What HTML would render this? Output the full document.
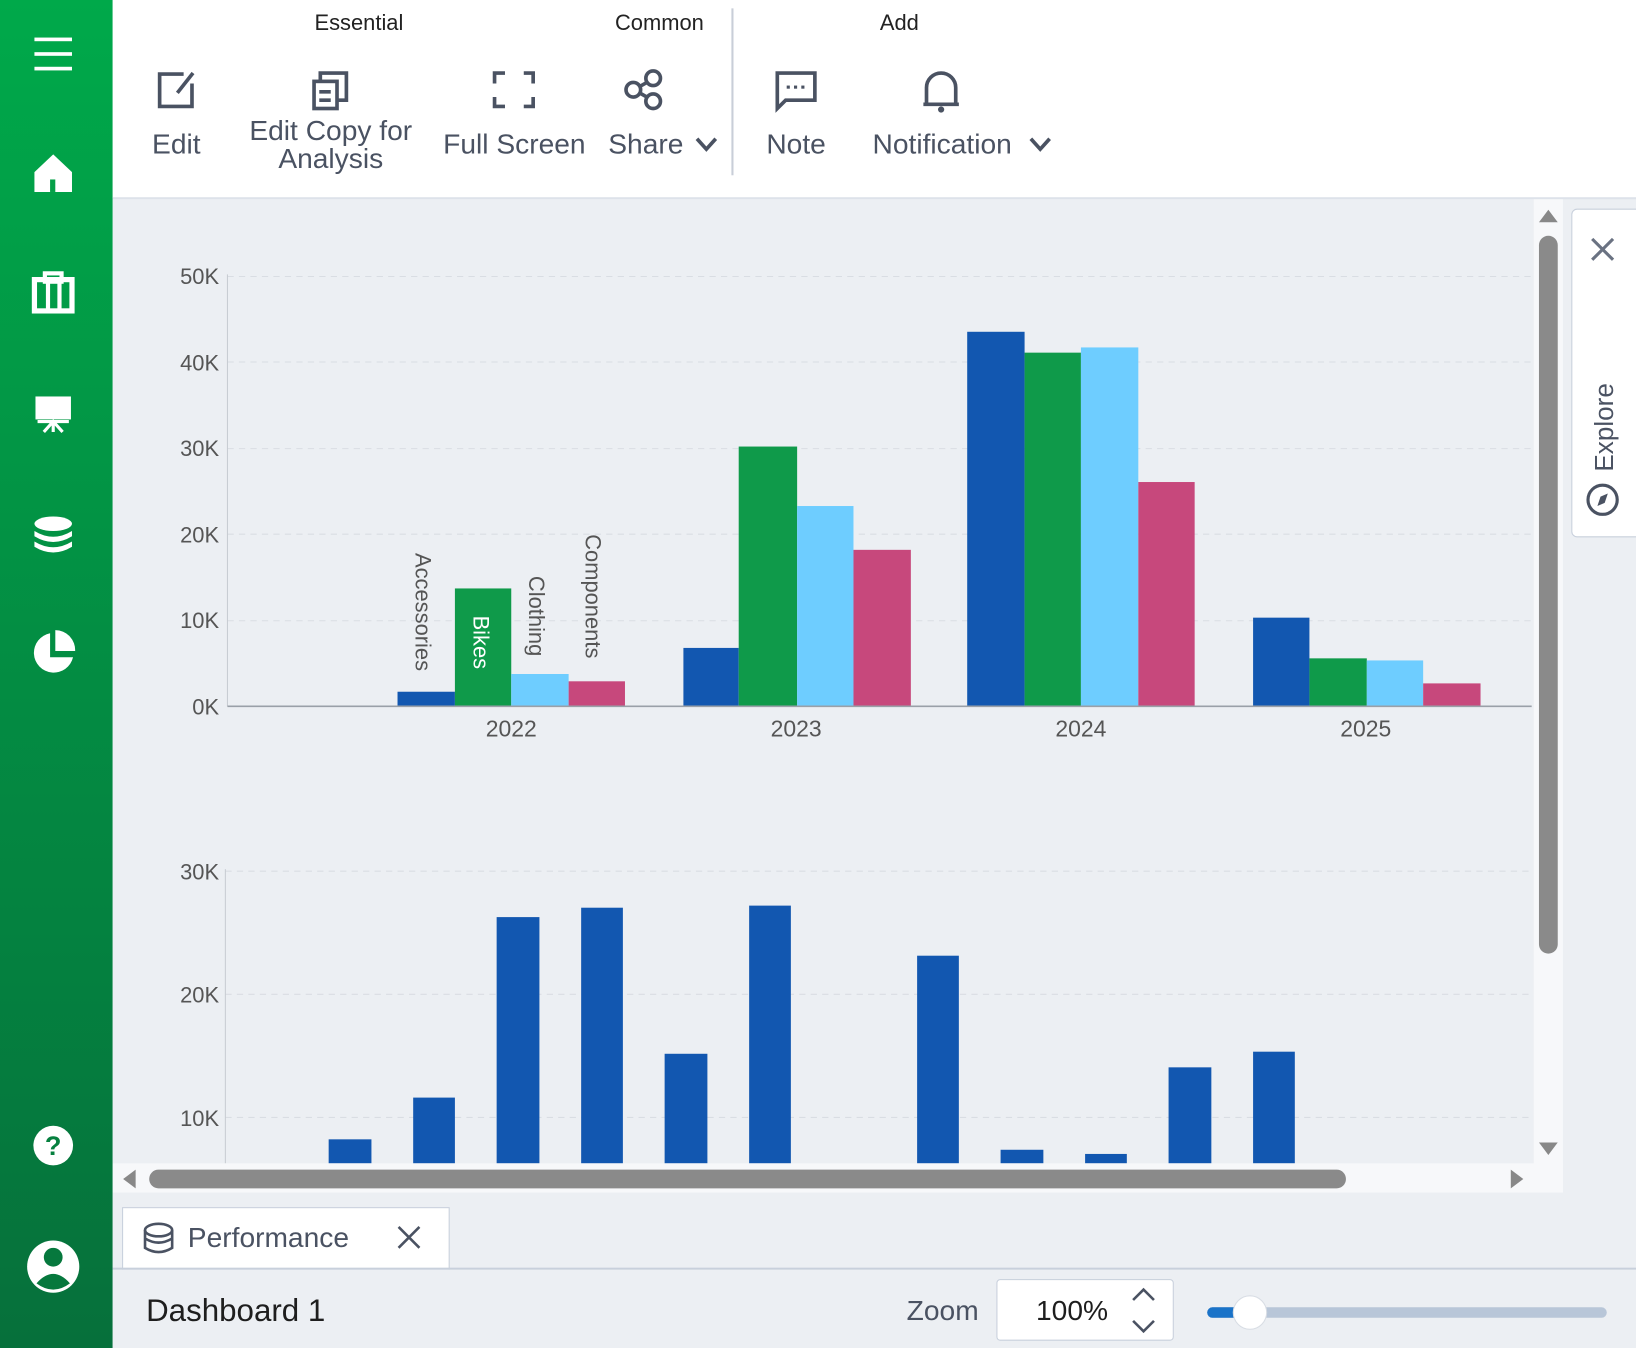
<!DOCTYPE html>
<html><head><meta charset="utf-8"><style>
html,body{margin:0;padding:0;width:1636px;height:1348px;overflow:hidden;background:#eceff3}
svg{display:block}
text{font-family:"Liberation Sans",sans-serif}
</style></head><body>
<svg width="1636" height="1348" viewBox="0 0 1568 1292" preserveAspectRatio="none" xmlns="http://www.w3.org/2000/svg">
<defs>
<linearGradient id="sb" x1="0" y1="0" x2="0" y2="1"><stop offset="0" stop-color="#00a94a"/><stop offset="1" stop-color="#06703b"/></linearGradient>
</defs>
<rect x="0" y="0" width="1568" height="1292" fill="#eceff3"/>
<!-- sidebar -->
<rect x="0" y="0" width="108" height="1292" fill="url(#sb)"/>
<g fill="#fff" stroke="#fff">
<rect x="33" y="36" width="36" height="3.5" stroke="none"/><rect x="33" y="50" width="36" height="3.5" stroke="none"/><rect x="33" y="64" width="36" height="3.5" stroke="none"/>
<path d="M33 165 L51 148 L69 165 L69 184 L33 184 Z" stroke="none"/>
<rect x="48" y="172" width="5" height="12" fill="#04a048" stroke="none"/>
<rect x="33" y="268" width="36" height="30" fill="none" stroke-width="5"/><rect x="43" y="262" width="16" height="8" fill="none" stroke-width="4"/><rect x="44" y="270" width="4" height="28" stroke="none"/><rect x="55" y="270" width="4" height="28" stroke="none"/>
<rect x="34" y="380" width="34" height="22" stroke="none"/><path d="M36 404 L66 404 M51 404 L51 414 M42 414 L51 404 L60 414" fill="none" stroke-width="3"/>
<ellipse cx="51" cy="502" rx="18" ry="7" stroke="none"/><path d="M33 509 Q51 520 69 509 L69 514 Q51 525 33 514Z M33 519 Q51 530 69 519 L69 524 Q51 535 33 524Z" stroke="none"/>
<path d="M48 607 A19 19 0 1 0 70 630 L48 630 Z" stroke="none"/><path d="M53 604 A19 19 0 0 1 72 624 L53 624 Z" stroke="none"/>
<circle cx="51" cy="1098" r="19" stroke="none"/>
<circle cx="51" cy="1214" r="25" stroke="none"/>
</g>
<text x="51" y="1107" font-size="26" font-weight="bold" fill="#06803f" text-anchor="middle">?</text>
<circle cx="51" cy="1205" r="9" fill="#06783d"/><path d="M35 1230 Q51 1212 67 1230 Q51 1242 35 1230Z" fill="#06783d"/>
<!-- toolbar -->
<rect x="108" y="0" width="1460" height="190" fill="#fff"/>
<rect x="108" y="189" width="1460" height="2" fill="#dde2ea"/>
<rect x="701" y="8" width="2" height="160" fill="#c9ced8"/>
<g font-size="21" fill="#222" text-anchor="middle"><text x="344" y="29">Essential</text><text x="632" y="29">Common</text><text x="862" y="29">Add</text></g>
<g font-size="27" fill="#4a5262" text-anchor="middle">
<text x="169" y="147">Edit</text><text x="317" y="134">Edit Copy for</text><text x="317" y="161">Analysis</text>
<text x="493" y="147">Full Screen</text><text x="619" y="147">Share</text><text x="763" y="147">Note</text><text x="903" y="147">Notification</text></g>
<g fill="none" stroke="#4a5262" stroke-width="3.5">
<path d="M668 133 L677 143 L686 133"/><path d="M988 133 L997 143 L1006 133"/>
<path d="M176 71 L153 71 L153 102 L184 102 L184 80"/><path d="M170 89 L185 70"/>
<rect x="301" y="78" width="22" height="26"/><path d="M307 78 L307 70 L332 70 L332 96 L323 96"/><path d="M306 88 L317 88 M306 96 L317 96"/>
<path d="M474 80 L474 70 L484 70 M502 70 L511 70 L511 80 M511 93 L511 102 L502 102 M484 102 L474 102 L474 93"/>
<circle cx="607" cy="86" r="7"/><circle cx="626" cy="75" r="7"/><circle cx="626" cy="97" r="7"/><path d="M613 83 L620 79 M613 89 L620 93"/>
<path d="M745 70 L781 70 L781 96 L753 96 L745 104 Z"/>
<path d="M888 100 L888 84 A14 14 0 0 1 916 84 L916 100 Z M885 100 L919 100"/>
</g>
<g fill="#4a5262"><rect x="754" y="82" width="3" height="3"/><rect x="761" y="82" width="3" height="3"/><rect x="768" y="82" width="3" height="3"/><circle cx="902" cy="105" r="3"/></g>
<!-- chart area -->
<rect x="108" y="191" width="1362" height="924" fill="#eceff3"/>
<g stroke="#d9dde3" stroke-dasharray="6 5" stroke-width="1">
<line x1="218" y1="265" x2="1468" y2="265"/><line x1="218" y1="347" x2="1468" y2="347"/><line x1="218" y1="430" x2="1468" y2="430"/><line x1="218" y1="512" x2="1468" y2="512"/><line x1="218" y1="595" x2="1468" y2="595"/>
<line x1="216" y1="835" x2="1468" y2="835"/><line x1="216" y1="953" x2="1468" y2="953"/><line x1="216" y1="1071" x2="1468" y2="1071"/>
</g>
<line x1="218" y1="263" x2="218" y2="677" stroke="#c8ccd2"/>
<line x1="216" y1="833" x2="216" y2="1115" stroke="#c8ccd2"/>
<g font-size="21" fill="#555" text-anchor="end">
<text x="210" y="272">50K</text><text x="210" y="355">40K</text><text x="210" y="437">30K</text><text x="210" y="520">20K</text><text x="210" y="602">10K</text><text x="210" y="685">0K</text>
<text x="210" y="843">30K</text><text x="210" y="961">20K</text><text x="210" y="1079">10K</text></g>
<g fill="#1257b0">
<rect x="381" y="663" width="55" height="14"/><rect x="655" y="621" width="53" height="56"/><rect x="927" y="318" width="55" height="359"/><rect x="1201" y="592" width="54" height="85"/>
</g>
<g fill="#0f9a4a"><rect x="436" y="564" width="54" height="113"/><rect x="708" y="428" width="56" height="249"/><rect x="982" y="338" width="54" height="339"/><rect x="1255" y="631" width="55" height="46"/></g>
<g fill="#6ecdff"><rect x="490" y="646" width="55" height="31"/><rect x="764" y="485" width="54" height="192"/><rect x="1036" y="333" width="55" height="344"/><rect x="1310" y="633" width="54" height="44"/></g>
<g fill="#c7487c"><rect x="545" y="653" width="54" height="24"/><rect x="818" y="527" width="55" height="150"/><rect x="1091" y="462" width="54" height="215"/><rect x="1364" y="655" width="55" height="22"/></g>
<line x1="218" y1="677" x2="1468" y2="677" stroke="#9aa0a8" stroke-width="1.5"/>
<g font-size="22" fill="#555" text-anchor="middle"><text x="490" y="706">2022</text><text x="763" y="706">2023</text><text x="1036" y="706">2024</text><text x="1309" y="706">2025</text></g>
<g font-size="21" fill="#555">
<text transform="translate(398,530) rotate(90)">Accessories</text>
<text transform="translate(507,552) rotate(90)">Clothing</text>
<text transform="translate(561,512) rotate(90)">Components</text>
<text transform="translate(454,590) rotate(90)" fill="#fff">Bikes</text></g>
<g fill="#1257b0">
<rect x="315" y="1092" width="41" height="23"/><rect x="396" y="1052" width="40" height="63"/><rect x="476" y="879" width="41" height="236"/><rect x="557" y="870" width="40" height="245"/><rect x="637" y="1010" width="41" height="105"/><rect x="718" y="868" width="40" height="247"/><rect x="879" y="916" width="40" height="199"/><rect x="959" y="1102" width="41" height="13"/><rect x="1040" y="1106" width="40" height="9"/><rect x="1120" y="1023" width="41" height="92"/><rect x="1201" y="1008" width="40" height="107"/>
</g>
<!-- scrollbars -->
<rect x="1470" y="191" width="28" height="952" fill="#f7f8fa"/>
<path d="M1475 213 L1484 201 L1493 213Z M1475 1095 L1484 1107 L1493 1095Z" fill="#888"/>
<rect x="1475" y="226" width="18" height="688" rx="9" fill="#8a8a8a"/>
<rect x="108" y="1115" width="1390" height="28" fill="#f7f8fa"/>
<path d="M130 1121 L118 1130 L130 1139Z M1448 1121 L1460 1130 L1448 1139Z" fill="#888"/>
<rect x="143" y="1121" width="1147" height="18" rx="9" fill="#8a8a8a"/>
<!-- explore -->
<rect x="1506.5" y="200.5" width="70" height="314" rx="5" fill="#fff" stroke="#c8d0dc"/>
<path d="M1526 229 L1546 249 M1546 229 L1526 249" stroke="#6a7282" stroke-width="3"/>
<text transform="translate(1546,452) rotate(-90)" font-size="25" fill="#4a5262">Explore</text>
<circle cx="1536" cy="479" r="14" fill="none" stroke="#4a5262" stroke-width="3"/><path d="M1541 473 L1538 482 L1531 485 L1534 476Z" fill="#4a5262"/>
<!-- tabs -->
<rect x="108" y="1143" width="1460" height="72" fill="#eceff3"/>
<rect x="117.5" y="1157.5" width="313" height="60" fill="#fff" stroke="#c8d0dc"/>
<g fill="none" stroke="#4a5262" stroke-width="2.5"><ellipse cx="152" cy="1179" rx="13" ry="6"/><path d="M139 1179 L139 1196 Q152 1204 165 1196 L165 1179 M139 1187 Q152 1195 165 1187"/>
<path d="M382 1176 L402 1196 M402 1176 L382 1196"/></g>
<text x="180" y="1195" font-size="27" fill="#4a5262">Performance</text>
<rect x="108" y="1215" width="1460" height="2" fill="#c8d0dc"/>
<rect x="108" y="1217" width="1460" height="75" fill="#eceff3"/>
<text x="140" y="1266" font-size="30" fill="#1e1e1e">Dashboard 1</text>
<text x="938" y="1265" font-size="27" fill="#4a5262" text-anchor="end">Zoom</text>
<rect x="955.5" y="1226.5" width="169" height="58" rx="3" fill="#fff" stroke="#c8d0dc"/>
<text x="1062" y="1265" font-size="27" fill="#1e1e1e" text-anchor="end">100%</text>
<path d="M1086 1246 L1096 1236 L1106 1246 M1086 1266 L1096 1276 L1106 1266" fill="none" stroke="#4a5262" stroke-width="2.5"/>
<rect x="1157" y="1253" width="383" height="10" rx="5" fill="#b8c6d8"/>
<rect x="1157" y="1253" width="40" height="10" rx="5" fill="#1a73c8"/>
<circle cx="1198" cy="1258" r="16" fill="#fff" stroke="#d8dde4"/>
</svg>
</body></html>
